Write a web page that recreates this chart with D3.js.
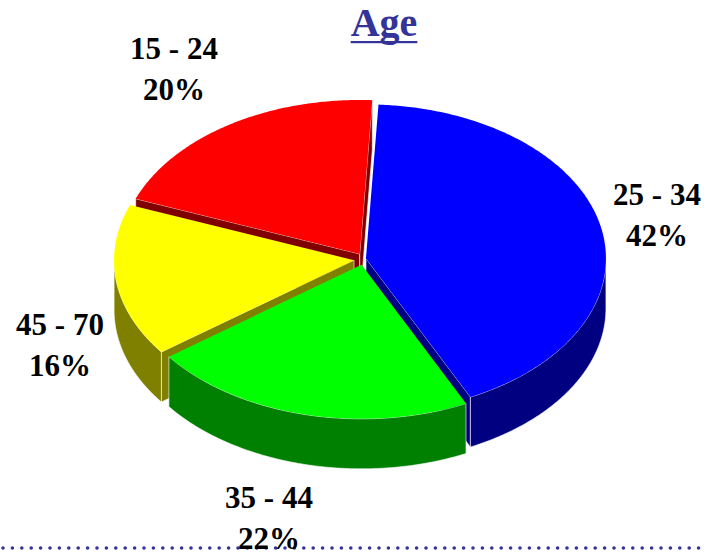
<!DOCTYPE html>
<meta charset="utf-8">
<head>
<style>
body {margin: 0; background: #fff;}

.label {
  font: bold 31px "Liberation Serif", "Times New Roman", serif;
  fill: #000;
}

.title {
  font: bold 40px "Liberation Serif", "Times New Roman", serif;
  fill: #333399;
}
</style>
</head>
<body>
<script src="https://d3js.org/d3.v7.min.js"></script>
<script>

// data: age groups and their share (%)
var groups = ["25 - 34", "35 - 44", "45 - 70", "15 - 24"];
var shares = [42, 22, 16, 20];
var pctLabels = ["42%", "22%", "16%", "20%"];

// colours for top face and walls
var topColors = ["#0000ff", "#00ff00", "#ffff00", "#ff0000"];
var wallColors = ["#000080", "#008000", "#808000", "#800000"];

// layout
var width = 706, height = 559;
var cx = 363, cy = 259, rx = 240, ry = 154, depth = 50;
var explode = [3, 6, 9, 6];
var labelPos = [[657, 205], [269, 508], [60, 335], [174, 59]];
var startDeg = 3;

var svg = d3.select("body").append("svg")
    .attr("width", width)
    .attr("height", height);

// angle 0 = top, clockwise
var pie = d3.pie()
    .sort(null)
    .startAngle(startDeg * Math.PI / 180)
    .endAngle(2 * Math.PI + startDeg * Math.PI / 180);

var arcs = pie(shares);
var line = d3.line();

function pt(c, a, z) {
  return [c[0] + rx * Math.sin(a), c[1] - ry * Math.cos(a) + (z || 0)];
}

function rim(c, a0, a1, z) {
  var n = Math.max(2, Math.ceil((a1 - a0) / 0.01));
  return d3.range(n + 1).map(function (k) { return pt(c, a0 + (a1 - a0) * k / n, z); });
}

var slices = arcs.map(function (d, i) {
  var mid = (d.startAngle + d.endAngle) / 2;
  return {
    i: i,
    a0: d.startAngle,
    a1: d.endAngle,
    mid: mid,
    c: [cx + explode[i] * Math.sin(mid), cy - explode[i] * Math.cos(mid)]
  };
});

// back slices first
slices.sort(function (a, b) { return Math.cos(b.mid) - Math.cos(a.mid); });

var pieG = svg.append("g").attr("class", "pie");

slices.forEach(function (s) {
  var g = pieG.append("g");
  var c = s.c;
  var cDown = [c[0], c[1] + depth];

  // radial side walls that face the viewer
  [[s.a0, Math.sin(s.a0) < 0], [s.a1, Math.sin(s.a1) > 0]].forEach(function (w) {
    if (!w[1]) return;
    var p = pt(c, w[0]), q = pt(c, w[0], depth);
    g.append("path")
      .attr("d", line([c, p, q, cDown]) + "Z")
      .attr("fill", wallColors[s.i])
      .attr("stroke", "#fff")
      .attr("stroke-width", 0.6)
      .attr("stroke-linejoin", "round");
  });

  // outer curved wall, front half only
  var f0 = Math.max(s.a0, Math.PI / 2), f1 = Math.min(s.a1, 3 * Math.PI / 2);
  if (f1 > f0) {
    var upper = rim(c, f0, f1, 0);
    var lower = rim(c, f0, f1, depth).reverse();
    g.append("path")
      .attr("d", line(upper.concat(lower)) + "Z")
      .attr("fill", wallColors[s.i])
      .attr("stroke", "#fff")
      .attr("stroke-width", 0.6)
      .attr("stroke-linejoin", "round");
  }

  // top face
  g.append("path")
    .attr("d", line([c].concat(rim(c, s.a0, s.a1, 0))) + "Z")
    .attr("fill", topColors[s.i]);
});

// dotted rule at the bottom
svg.append("line")
  .attr("x1", 3).attr("x2", width)
  .attr("y1", 548).attr("y2", 548)
  .attr("stroke", "#333399")
  .attr("stroke-width", 3.6)
  .attr("stroke-linecap", "round")
  .attr("stroke-dasharray", "0,9.4");

// labels
groups.forEach(function (name, i) {
  var t = svg.append("text")
    .attr("class", "label")
    .attr("text-anchor", "middle")
    .attr("x", labelPos[i][0])
    .attr("y", labelPos[i][1]);
  t.append("tspan").attr("x", labelPos[i][0]).text(name);
  t.append("tspan").attr("x", labelPos[i][0]).attr("dy", 41).text(pctLabels[i]);
});

// title with underline
var title = svg.append("text")
  .attr("class", "title")
  .attr("text-anchor", "middle")
  .attr("x", 384)
  .attr("y", 36)
  .text("Age");

var bb = title.node().getBBox();
svg.append("rect")
  .attr("x", bb.x)
  .attr("y", 41)
  .attr("width", bb.width)
  .attr("height", 2.2)
  .attr("fill", "#333399");

</script>
</body>
